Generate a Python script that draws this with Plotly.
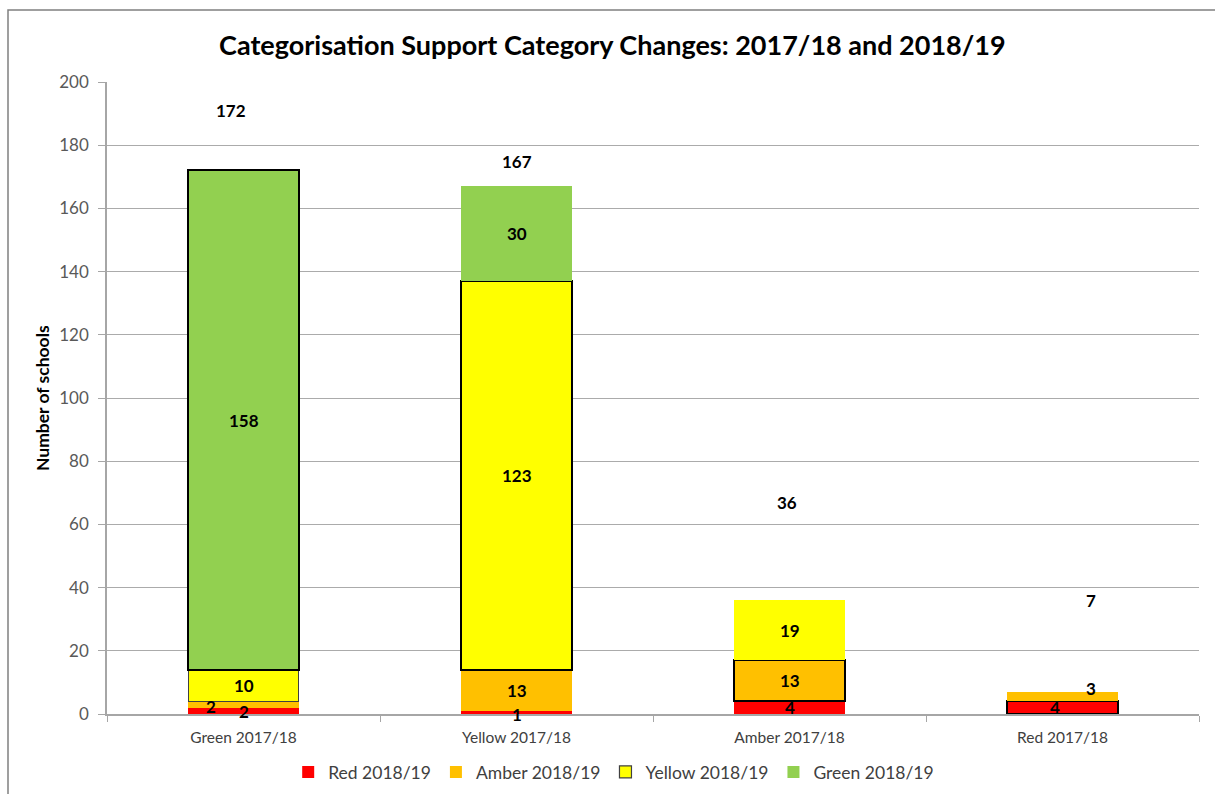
import plotly.graph_objects as go

categories = ["Green 2017/18", "Yellow 2017/18", "Amber 2017/18", "Red 2017/18"]
series_names = ["Red 2018/19", "Amber 2018/19", "Yellow 2018/19", "Green 2018/19"]
red_1819 = [2, 1, 4, 4]
amber_1819 = [2, 13, 13, 3]
yellow_1819 = [10, 123, 19, 0]
green_1819 = [158, 30, 0, 0]
totals = [172, 167, 36, 7]

series_values = [red_1819, amber_1819, yellow_1819, green_1819]
colors = ["#FF0000", "#FFC000", "#FFFF00", "#92D050"]
line_widths = [[0, 0, 0, 2], [0, 0, 2, 0], [1.2, 2, 0, 0], [2, 0, 0, 0]]
line_colors = [["#000000"] * 4, ["#000000"] * 4,
               ["#404040", "#000000", "#000000", "#000000"], ["#000000"] * 4]
# point order per trace (the legend swatch takes its outline from the first point)
point_orders = [[0, 1, 2, 3], [0, 1, 2, 3], [0, 1, 2, 3], [3, 2, 1, 0]]

# manual label nudges (pixels) mirroring the reference layout
seg_xshift = [[0, 0, 0, -8], [-33, 0, 0, 28], [0, 0, 0, 0], [0, 0, 0, 0]]
seg_yshift = [[-1, -2, 0, 0], [-2, 0, 0, 8], [0, 0, 0, 0], [0, 0, 0, 0]]
total_offset = [19, 8, 31, 29]
total_xshift = [-13, 0, -3, 28]

FONT = "Lato"

fig = go.Figure()
for name, vals, col, lw, lc, order in zip(series_names, series_values, colors,
                                          line_widths, line_colors, point_orders):
    fig.add_trace(go.Bar(
        x=[categories[i] for i in order], y=[vals[i] for i in order], name=name,
        marker=dict(color=col, line=dict(width=[lw[i] for i in order],
                                         color=[lc[i] for i in order])),
        hoverinfo="x+y+name",
    ))

annotations = []
base = [0, 0, 0, 0]
for si, vals in enumerate(series_values):
    for ci, v in enumerate(vals):
        if v > 0:
            annotations.append(dict(
                x=categories[ci], y=base[ci] + v / 2, text=f"<b>{v}</b>",
                showarrow=False, xshift=seg_xshift[si][ci], yshift=seg_yshift[si][ci],
                font=dict(family=FONT, size=17, color="#000000"),
            ))
        base[ci] += v

for ci, t in enumerate(totals):
    annotations.append(dict(
        x=categories[ci], y=t + total_offset[ci], text=f"<b>{t}</b>",
        showarrow=False, xshift=total_xshift[ci],
        font=dict(family=FONT, size=17, color="#000000"),
    ))

annotations.append(dict(
    xref="paper", yref="paper", x=(42 - 107) / 1092, y=0.5, xanchor="center", yanchor="middle",
    text="<b>Number of schools</b>",
    textangle=-90, showarrow=False, font=dict(family=FONT, size=17.5, color="#000000"),
))

fig.update_layout(
    barmode="stack",
    bargap=0.597,
    width=1215, height=794,
    margin=dict(l=107, r=16, t=82, b=80, autoexpand=False),
    paper_bgcolor="white", plot_bgcolor="white",
    title=dict(text="<b>Categorisation Support Category Changes: 2017/18 and 2018/19</b>",
               x=0.504, xanchor="center", y=0.943, yanchor="middle",
               font=dict(family=FONT, size=27, color="#000000")),
    font=dict(family=FONT),
    annotations=annotations,
    legend=dict(orientation="h", x=0.464, xanchor="center",
                yref="container", y=(794 - 772) / 794, yanchor="middle",
                font=dict(family=FONT, size=17.5, color="#404040"), traceorder="normal",
                itemwidth=30),
    showlegend=True,
    shapes=[dict(type="rect", xref="paper", yref="paper",
                 x0=(8 - 107) / 1092, x1=(1260 - 107) / 1092,
                 y0=(714 - 830) / 632, y1=(714 - 10) / 632,
                 line=dict(color="#808080", width=1.5), layer="below")],
)
fig.update_xaxes(
    categoryorder="array", categoryarray=categories,
    showgrid=False, showline=True, linecolor="#A6A6A6", linewidth=1.5,
    ticks="outside", tickson="boundaries", ticklen=6, tickcolor="#A6A6A6",
    ticklabelstandoff=9,
    tickfont=dict(family=FONT, size=15.5, color="#404040"),
)
fig.update_yaxes(
    range=[0, 200], dtick=20, showgrid=True, gridcolor="#ABABAB", gridwidth=1,
    showline=True, linecolor="#A6A6A6", linewidth=1.5,
    ticks="outside", ticklen=7, tickcolor="#A6A6A6", ticklabelstandoff=6,
    tickfont=dict(family=FONT, size=17, color="#595959"), zeroline=False,
)

fig.write_html("out.html")
